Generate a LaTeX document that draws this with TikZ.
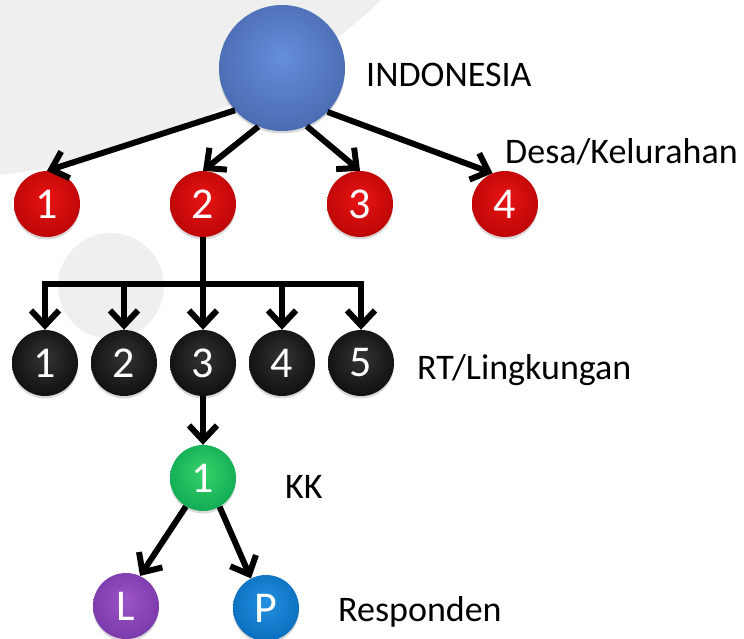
\documentclass[tikz,border=0pt]{standalone}
\usepackage{fontspec}
\setmainfont{Carlito}
\usetikzlibrary{arrows.meta,shadows}

\definecolor{indoIn}{RGB}{102,142,218}
\definecolor{indoOut}{RGB}{62,92,160}
\definecolor{desaIn}{RGB}{232,20,20}
\definecolor{desaOut}{RGB}{170,0,0}
\definecolor{rtIn}{RGB}{52,52,52}
\definecolor{rtOut}{RGB}{0,0,0}
\definecolor{kkIn}{RGB}{55,210,105}
\definecolor{kkOut}{RGB}{0,155,75}
\definecolor{lakiIn}{RGB}{155,85,200}
\definecolor{lakiOut}{RGB}{108,45,155}
\definecolor{peremIn}{RGB}{35,145,225}
\definecolor{peremOut}{RGB}{0,95,175}
\definecolor{backgr}{RGB}{239,239,239}

\pgfdeclareradialshading[orbin,orbout]{orb}{\pgfpoint{0bp}{5bp}}{color(0bp)=(orbin); color(40bp)=(orbout); color(50bp)=(orbout!85!black)}

\begin{document}
\begin{tikzpicture}[x=1pt, y=-1pt,
  ball/.style 2 args = {circle, minimum size=66pt, inner sep=0pt, text=white,
    font=\fontsize{44}{44}\selectfont, shading=orb,
    /utils/exec={\colorlet{orbin}{#1}\colorlet{orbout}{#2}},
    drop shadow={opacity=0.3, shadow xshift=0pt, shadow yshift=-2.5pt}},
  lbl/.style = {anchor=west, inner sep=0pt, font=\fontsize{36}{36}\selectfont},
  link/.style = {line width=6pt, -{Straight Barb[length=15pt, width=28pt]}}]
  \useasboundingbox (0,0) rectangle (744,638);
  % background
  \fill[backgr] (0,0) -- (381,0) .. controls (300,80) and (150,158) .. (0,175) -- cycle;
  \fill[backgr] (111,286) circle (53pt);

  \node[ball={indoIn}{indoOut}, minimum size=126pt] (indo) at (282,68) {};
  \node[lbl] (indolbl) at (366,75) {INDONESIA};

  \node[ball={desaIn}{desaOut}] (d1) at (47,204) {1};
  \node[ball={desaIn}{desaOut}] (d2) at (203,204) {2};
  \node[ball={desaIn}{desaOut}] (d3) at (360,204) {3};
  \node[ball={desaIn}{desaOut}] (d4) at (505,204) {4};
  \node[lbl] (desalbl) at (505,152) {Desa/Kelurahan};

  \node[ball={rtIn}{rtOut}] (rt1) at (45,363) {1};
  \node[ball={rtIn}{rtOut}, node distance=79pt] (rt2) [right of=rt1] {2};
  \node[ball={rtIn}{rtOut}, node distance=79pt] (rt3) [right of=rt2] {3};
  \node[ball={rtIn}{rtOut}, node distance=79pt] (rt4) [right of=rt3] {4};
  \node[ball={rtIn}{rtOut}, node distance=79pt] (rt5) [right of=rt4] {5};
  \node[lbl] (rtlbl) at (417,370) {RT/Lingkungan};

  \node[ball={kkIn}{kkOut}, node distance=115pt] (kk) [below of=rt3] {1};
  \node[lbl] (kklbl) at (285,487) {KK};

  \node[ball={lakiIn}{lakiOut}] (L) at (126,606) {L};
  \node[ball={peremIn}{peremOut}] (P) at (266,608) {P};
  \node[lbl] (resplbl) at (338,612) {Responden};

  \draw[link] (indo.222) -- (d1.north);
  \draw[link] (indo.248) -- (d2.north);
  \draw[link] (indo.293) -- (d3.north);
  \draw[link] (indo.316) -- (d4.112);

  \draw[line width=6pt] (d2.south) -- ++(0,47) coordinate (bus);
  \draw[line width=6pt, line cap=rect] (rt1 |- bus) -- (rt5 |- bus);
  \foreach \i in {1,...,5}
    \draw[link] (rt\i |- bus) -- (rt\i.north);

  \draw[link] (rt3) -- (kk);
  \draw[link] (kk.239) -- (L.65);
  \draw[link] (kk.300) -- (P.117);
\end{tikzpicture}
\end{document}
